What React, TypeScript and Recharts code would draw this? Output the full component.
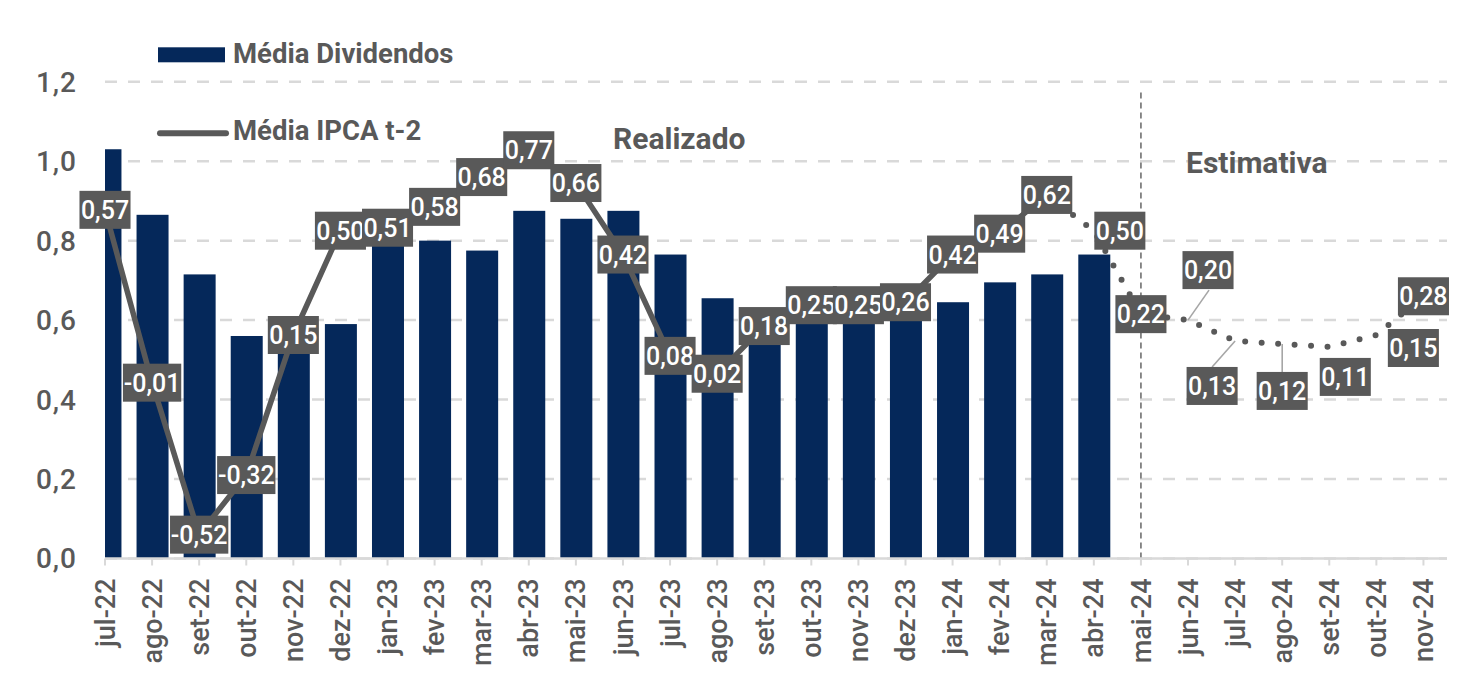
import React from 'react';
import { ComposedChart, Bar, Line, XAxis, YAxis, CartesianGrid, ReferenceLine, LabelList } from 'recharts';

// ---------- data ----------
const months = ['jul-22','ago-22','set-22','out-22','nov-22','dez-22','jan-23','fev-23','mar-23','abr-23','mai-23','jun-23','jul-23','ago-23','set-23','out-23','nov-23','dez-23','jan-24','fev-24','mar-24','abr-24','mai-24','jun-24','jul-24','ago-24','set-24','out-24','nov-24'];
const mediaDividendos = [1.03, 0.865, 0.715, 0.56, 0.57, 0.59, 0.80, 0.80, 0.775, 0.875, 0.855, 0.875, 0.765, 0.655, 0.565, 0.60, 0.60, 0.61, 0.645, 0.695, 0.715, 0.765];
const ipcaRealizado = [0.57, -0.01, -0.52, -0.32, 0.15, 0.50, 0.51, 0.58, 0.68, 0.77, 0.66, 0.42, 0.08, 0.02, 0.18, 0.25, 0.25, 0.26, 0.42, 0.49, 0.62];
const ipcaEstimativa = [0.50, 0.22, 0.20, 0.13, 0.12, 0.11, 0.15, 0.28];
const leftTicks = [0, 0.2, 0.4, 0.6, 0.8, 1.0, 1.2];
const splitIndex = months.indexOf('mai-24');

// ---------- styles / layout ----------
const NAVY = '#05285a';
const GRAY = '#595959';
const GRID = '#d9d9d9';
const FONT = 'Roboto, "Noto Sans", sans-serif';
const CHART_W = 1466;
const CHART_H = 690;
const Y_AXIS_W = 105;
const MARGIN_RIGHT = 19;

// label placement tweaks (layout only): dx, dy of box centre and optional leader end
const labelPlacement: Record<number, { dx: number; dy: number; leader?: [number, number] }> = {
  21: { dx: 26, dy: 0 },
  23: { dx: 20, dy: -50, leader: [21, -30] },
  24: { dx: -23, dy: 45, leader: [-23, 26] },
  25: { dx: 0, dy: 47, leader: [0, 28] },
  26: { dx: 16, dy: 30 },
  27: { dx: 37, dy: 13 },
};

const lastReal = ipcaRealizado.length - 1;
const data = months.map((m, i) => {
  const ipca = i <= lastReal ? ipcaRealizado[i] : ipcaEstimativa[i - lastReal - 1];
  return {
    x: i,
    mes: m,
    div: i < mediaDividendos.length ? mediaDividendos[i] : null,
    solid: i <= lastReal ? ipca : null,
    dotted: i >= lastReal ? ipca : null,
    ipca,
  };
});

const fmt = (v: number, d = 2) => v.toFixed(d).replace('.', ',');

const charW = (c: string) => (c === ',' ? 0.196 : c === '-' ? 0.29 : 0.562);
const textW = (s: string, size: number) => s.split('').reduce((a, c) => a + charW(c), 0) * size;

const IpcaLabel = (props: any) => {
  const { x, y, value, index } = props;
  if (value == null || x == null || y == null) return null;
  const p = labelPlacement[index] || { dx: 0, dy: 0 };
  const text = fmt(Number(value));
  const w = textW(text, 25) + 4;
  const cx = x + p.dx;
  const cy = y + p.dy;
  return (
    <g>
      {p.leader && (
        <line x1={x} y1={y} x2={x + p.leader[0]} y2={y + p.leader[1]} stroke="#a6a6a6" strokeWidth={1.6} />
      )}
      <rect x={cx - w / 2} y={cy - 19} width={w} height={38} fill={GRAY} />
      <text x={cx} y={cy} dy="0.36em" textAnchor="middle" fill="#ffffff" fontSize={25} fontWeight={500} fontFamily={FONT}>
        {text}
      </text>
    </g>
  );
};

const XTick = (props: any) => {
  const { x, y, payload } = props;
  const label = months[payload.value] ?? '';
  return (
    <g transform={`translate(${x},${y}) rotate(-90)`}>
      <text x={0} y={0} dy="0.355em" textAnchor="end" fill={GRAY} fontSize={27} fontWeight={500} fontFamily={FONT}>
        {label}
      </text>
    </g>
  );
};

const ClippedBar = (props: any) => {
  const { x, y, width, height } = props;
  if (x == null || height == null || height <= 0) return null;
  return <rect x={x} y={y} width={width} height={height} fill={NAVY} clipPath="url(#plotAreaClip)" />;
};

export default function App() {
  return (
    <div style={{ position: 'absolute', left: 0, top: 0, width: CHART_W, height: CHART_H, background: '#fff', fontFamily: FONT }}>
      <ComposedChart width={CHART_W} height={CHART_H} data={data} margin={{ top: 81.7, right: MARGIN_RIGHT, bottom: 0, left: 0 }}>
        <defs>
          <clipPath id="plotAreaClip">
            <rect x={Y_AXIS_W} y={0} width={CHART_W - Y_AXIS_W - MARGIN_RIGHT} height={CHART_H} />
          </clipPath>
        </defs>
        <CartesianGrid yAxisId="left" vertical={false} stroke={GRID} strokeWidth={2.5} strokeDasharray="12 11" />
        <XAxis
          dataKey="x"
          type="number"
          domain={[0, 28.5]}
          ticks={months.map((_, i) => i)}
          interval={0}
          tick={<XTick />}
          tickSize={7}
          tickMargin={13}
          tickLine={{ stroke: GRID, strokeWidth: 2 }}
          axisLine={{ stroke: GRID, strokeWidth: 2.5 }}
          height={131.5}
        />
        <YAxis
          yAxisId="left"
          domain={[0, 1.2]}
          ticks={leftTicks}
          axisLine={false}
          tickLine={false}
          tickSize={0}
          tickMargin={28}
          width={Y_AXIS_W}
          tickFormatter={(v: number) => fmt(v, 1)}
          tick={{ fill: GRAY, fontSize: 28, fontWeight: 500, fontFamily: FONT, letterSpacing: 1 }}
        />
        <YAxis yAxisId="right" orientation="right" domain={[-0.6, 1.0]} hide />
        <Bar yAxisId="left" dataKey="div" fill={NAVY} barSize={32} shape={<ClippedBar />} isAnimationActive={false} />
        <ReferenceLine
          yAxisId="left"
          segment={[{ x: splitIndex, y: 0 }, { x: splitIndex, y: 1.179 }]}
          stroke="#6f6f6f"
          strokeWidth={1.6}
          strokeDasharray="6 4"
        />
        <Line
          yAxisId="right"
          dataKey="solid"
          stroke={GRAY}
          strokeWidth={5.5}
          strokeLinejoin="round"
          dot={false}
          activeDot={false}
          connectNulls={false}
          isAnimationActive={false}
        />
        <Line
          yAxisId="right"
          dataKey="dotted"
          stroke={GRAY}
          strokeWidth={6}
          strokeDasharray="0 16.5"
          strokeLinecap="round"
          dot={false}
          activeDot={false}
          connectNulls={false}
          isAnimationActive={false}
        />
        <Line
          yAxisId="right"
          dataKey="ipca"
          stroke="none"
          dot={false}
          activeDot={false}
          isAnimationActive={false}
        >
          <LabelList dataKey="ipca" content={<IpcaLabel />} />
        </Line>
      </ComposedChart>
      <svg width={CHART_W} height={CHART_H} style={{ position: 'absolute', left: 0, top: 0, pointerEvents: 'none' }}>
        <rect x={158} y={47.3} width={67} height={15} fill={NAVY} />
        <text x={233} y={63.3} fill={GRAY} fontSize={27.5} fontWeight={700} fontFamily={FONT}>Média Dividendos</text>
        <line x1={160} y1={133.3} x2={226} y2={133.3} stroke={GRAY} strokeWidth={6} strokeLinecap="round" />
        <text x={233} y={140.3} fill={GRAY} fontSize={27.5} fontWeight={700} fontFamily={FONT}>Média IPCA t-2</text>
        <text x={613} y={148.5} fill={GRAY} fontSize={30} fontWeight={700} fontFamily={FONT}>Realizado</text>
        <text x={1186} y={173} fill={GRAY} fontSize={30} fontWeight={700} fontFamily={FONT}>Estimativa</text>
      </svg>
    </div>
  );
}
